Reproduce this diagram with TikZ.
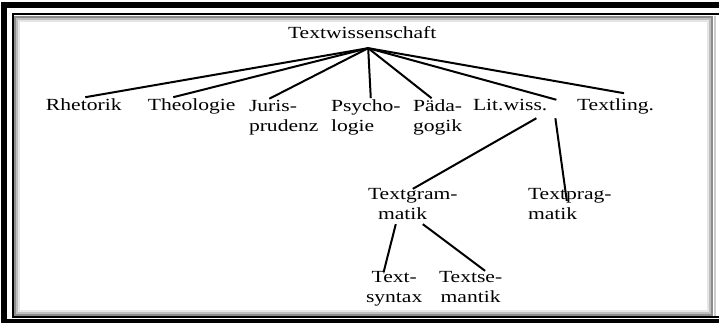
\documentclass[tikz,border=0pt]{standalone}
\usepackage{fontspec}
\setmainfont{Liberation Serif}[FakeStretch=1.27]

\begin{document}
\begin{tikzpicture}[x=0.5pt, y=-0.5pt,
                    font=\fontsize{8.5pt}{10pt}\selectfont,
                    line width=1pt,
                    word node/.style={inner sep=0pt, anchor=base west, align=left},
                    fade line/.style={line width=1pt, draw=#1}]

  \useasboundingbox (0,0) rectangle (719,322);

  % frame
  \draw[line width=3pt] (4,5) rectangle (760,322);
  \draw[line width=1pt] (12.5,14) rectangle (760,317);
  \draw[fade line=black!45] (15,16.5) rectangle (712,314.5);
  \draw[fade line=black!25] (17,18.5) rectangle (710,312.5);
  \draw[fade line=black!10] (19,20.5) rectangle (708,310.5);
  \draw[fade line=black!20] (715,16) -- (715,316);

  \node[word node] (textwiss) at (287,38) {Textwissenschaft};

  % two-line nodes sit on the base of their last line
  \node[word node] (rhetorik)  at (45,110)  {Rhetorik};
  \node[word node] (theologie) at (147,110) {Theologie};
  \node[word node] (juris)     at (248,131) {Juris-\\prudenz};
  \node[word node] (psycho)    at (330,131) {Psycho-\\logie};
  \node[word node] (paeda)     at (412,131) {Päda-\\gogik};
  \node[word node] (litwiss)   at (472,110) {Lit.wiss.};
  \node[word node] (textling)  at (576,110) {Textling.};

  \node[word node] (textgram) at (367,219) {Textgram-\\\hspace*{5pt}matik};
  \node[word node] (textprag) at (527,219) {Textprag-\\matik};

  \node[word node, align=center] (textsyn) at (365,302) {Text-\\syntax};
  \node[word node, align=center] (textsem) at (438,302) {Textse-\\mantik};

  \coordinate (apex) at ([xshift=3pt,yshift=-4.5pt]textwiss.south);

  \path (apex)
        edge ([xshift=0.75pt]rhetorik.north)
        edge ([xshift=-9.25pt]theologie.north)
        edge ([xshift=-7.25pt]juris.north)
        edge ([xshift=2.5pt]psycho.north)
        edge ([xshift=-3pt]paeda.north)
        edge ([xshift=4pt,yshift=-1pt]litwiss.north east)
        edge ([xshift=4.25pt,yshift=2pt]textling.north);

  \path ([xshift=-6pt,yshift=-3.5pt]litwiss.south east)
          edge ([yshift=-1pt]textgram.north)
        ([xshift=3.5pt,yshift=-3.5pt]litwiss.south east)
          edge ([xshift=-1.5pt,yshift=-7pt]textprag.north)
        ([xshift=-8.5pt,yshift=-2pt]textgram.south)
          edge ([xshift=-5.25pt,yshift=-1pt]textsyn.north)
        ([xshift=5pt,yshift=-2pt]textgram.south)
          edge ([xshift=7.25pt,yshift=-0.5pt]textsem.north);
\end{tikzpicture}
\end{document}
